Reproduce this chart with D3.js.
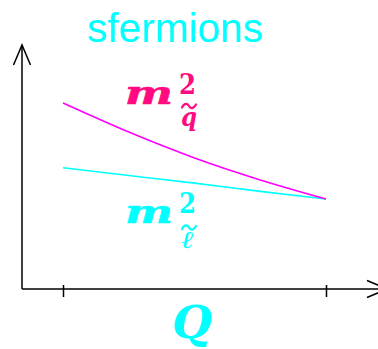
<!DOCTYPE html>
<html>
<head>
<meta charset="utf-8">
<script src="https://cdn.jsdelivr.net/npm/d3@7"></script>
<style>
  html, body { margin: 0; padding: 0; background: #fff; }
  svg { display: block; }
</style>
</head>
<body>
<div id="chart"></div>
<script>
// Running of sfermion mass parameters with scale Q (arbitrary units)
const qStops  = [0, 0.25, 0.5, 0.75, 1];
const squark  = [7.62, 6.43, 5.37, 4.47, 3.69];
const slepton = [4.97, 4.65, 4.34, 4.00, 3.69];
const qTicks = [0, 1];
const tickLabels = ["", ""];

const W = 378, H = 349;
const CYAN = "#00ffff", MAGENTA = "#ff00ff", PINK = "#ff0a80";

const svg = d3.select("#chart").append("svg")
  .attr("width", W).attr("height", H);

const x = d3.scaleLinear().domain([0, 1]).range([63, 326]);
const y = d3.scaleLinear().domain([0, 10]).range([289, 45]);

const axisX0 = 22, axisY0 = y(0);

// axes with open arrowheads
const ax = svg.append("g").attr("stroke", "#000").attr("stroke-width", 1.5).attr("fill", "none");
ax.append("line").attr("x1", axisX0).attr("y1", axisY0).attr("x2", axisX0).attr("y2", 45);
ax.append("path").attr("d", `M${axisX0 - 8.5},65 L${axisX0},45 L${axisX0 + 8.5},65`);
ax.append("line").attr("x1", axisX0).attr("y1", axisY0).attr("x2", 387).attr("y2", axisY0);
ax.append("path").attr("d", `M367,${axisY0 - 8.5} L387,${axisY0} L367,${axisY0 + 8.5}`);

// tick marks on Q axis
const xAxis = d3.axisBottom(x).tickValues(qTicks)
  .tickFormat((d, i) => tickLabels[i]).tickSizeOuter(0);
const gx = svg.append("g").attr("transform", `translate(0,${axisY0})`).call(xAxis);
gx.select(".domain").remove();
gx.selectAll(".tick line").attr("y1", -4).attr("y2", 8)
  .attr("stroke", "#000").attr("stroke-width", 1.5);
gx.selectAll(".tick text").remove();

// curves
const line = d3.line().x((d, i) => x(qStops[i])).y(d => y(d)).curve(d3.curveMonotoneX);
svg.append("path").datum(slepton).attr("d", line)
  .attr("fill", "none").attr("stroke", CYAN).attr("stroke-width", 1.6);
svg.append("path").datum(squark).attr("d", line)
  .attr("fill", "none").attr("stroke", MAGENTA).attr("stroke-width", 1.6);

// title
svg.append("text").attr("x", 175).attr("y", 41.5)
  .attr("text-anchor", "middle")
  .attr("font-family", "Liberation Sans, Arial, sans-serif")
  .attr("font-size", 40).attr("fill", CYAN)
  .attr("textLength", 176).attr("lengthAdjust", "spacingAndGlyphs")
  .text("sfermions");

// m^2 labels: bold italic m, superscript 2, subscript symbol with tilde accent
const serif = "DejaVu Serif, serif";
function tilde(g, cx, cy, color) {
  const p = d3.path();
  p.moveTo(cx - 7, cy + 1.5);
  p.bezierCurveTo(cx - 4, cy - 4, cx - 1, cy - 2, cx, cy);
  p.bezierCurveTo(cx + 1, cy + 2, cx + 4, cy + 4, cx + 7, cy - 1.5);
  g.append("path").attr("d", p.toString())
    .attr("fill", "none").attr("stroke", color).attr("stroke-width", 2.2)
    .attr("stroke-linecap", "round");
}
function massLabel(color, baseY, sub, subSize, subLen, subY, tildeY) {
  const g = svg.append("g").attr("fill", color);
  g.append("text").attr("x", 125).attr("y", baseY)
    .attr("font-family", serif).attr("font-weight", "bold").attr("font-style", "italic")
    .attr("font-size", 31).attr("textLength", 48).attr("lengthAdjust", "spacingAndGlyphs")
    .attr("stroke", color).attr("stroke-width", 0.6)
    .text("m");
  g.append("text").attr("x", 179).attr("y", baseY - 10)
    .attr("font-family", serif).attr("font-weight", "bold")
    .attr("font-size", 28).attr("textLength", 17).attr("lengthAdjust", "spacingAndGlyphs")
    .text("2");
  g.append("text").attr("x", 181).attr("y", subY)
    .attr("font-family", serif).attr("font-weight", "bold").attr("font-style", "italic")
    .attr("font-size", subSize).attr("textLength", subLen).attr("lengthAdjust", "spacingAndGlyphs")
    .text(sub);
  tilde(g, 189, tildeY, color);
  return g;
}

massLabel(PINK, 104, "q", 26, 16, 125.5, 106);
massLabel(CYAN, 223, "\u2113", 24, 13, 248, 227.5);

// axis title
svg.append("text").attr("x", 172).attr("y", 338)
  .attr("font-family", serif).attr("font-weight", "bold").attr("font-style", "italic")
  .attr("font-size", 45).attr("fill", CYAN)
  .attr("textLength", 40).attr("lengthAdjust", "spacingAndGlyphs")
  .text("Q");
</script>
</body>
</html>
